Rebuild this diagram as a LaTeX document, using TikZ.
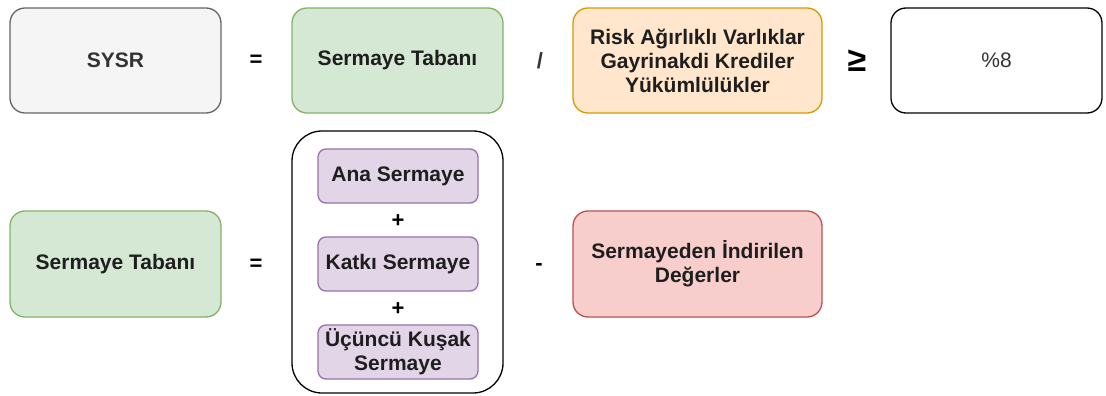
\documentclass[tikz,border=0pt]{standalone}
\usepackage{fontspec}
\setmainfont{Liberation Sans}
\definecolor{grayfill}{HTML}{F5F5F5}
\definecolor{graystroke}{HTML}{666666}
\definecolor{graytext}{HTML}{333333}
\definecolor{greenfill}{HTML}{D5E8D4}
\definecolor{greenstroke}{HTML}{82B366}
\definecolor{orangefill}{HTML}{FFE6CC}
\definecolor{orangestroke}{HTML}{D79B00}
\definecolor{purplefill}{HTML}{E1D5E7}
\definecolor{purplestroke}{HTML}{9673A6}
\definecolor{redfill}{HTML}{F8CECC}
\definecolor{redstroke}{HTML}{B85450}
\definecolor{textdark}{HTML}{1E1E1E}
\begin{document}
\begin{tikzpicture}[x=1pt,y=-1pt,
  box/.style={rectangle, rounded corners=15pt, line width=1.3pt, inner sep=0pt,
    minimum width=211pt, minimum height=105pt, align=center, text=textdark,
    font=\fontsize{21}{24}\selectfont\bfseries},
  graybox/.style={box, fill=grayfill, draw=graystroke, text=graytext},
  greenbox/.style={box, fill=greenfill, draw=greenstroke},
  orangebox/.style={box, fill=orangefill, draw=orangestroke, minimum width=249pt},
  redbox/.style={box, fill=redfill, draw=redstroke, minimum width=249pt},
  whitebox/.style={box, fill=white, draw=black, text=graytext,
    font=\fontsize{21}{24}\selectfont},
  purplebox/.style={box, fill=purplefill, draw=purplestroke, rounded corners=8pt,
    minimum width=160pt, minimum height=54pt},
  groupbox/.style={rectangle, rounded corners=30pt, line width=1.3pt, draw=black,
    fill=white, minimum width=211pt, minimum height=262pt},
  op/.style={inner sep=0pt, text=black, font=\fontsize{22}{24}\selectfont\bfseries}
]
\useasboundingbox[fill=white] (0,0) rectangle (1106,396);

% row 1
\node[graybox] (sysr) at (115.5,60.5) {SYSR};
\node[op] (eq1) at (256,60.5) {=};
\node[greenbox] (tab1) at (397.5,60.5) {Sermaye Tabanı};
\node[op, text=graytext] (div) at (540,61) {/};
\node[orangebox] (rwa) at (697.5,60.5) {Risk Ağırlıklı Varlıklar\\Gayrinakdi Krediler\\Yükümlülükler};
\node[op, font=\fontsize{34}{36}\selectfont\bfseries] (geq) at (857,61) {≥};
\node[whitebox] (pct) at (996.5,60.5) {\%8};

% row 2
\node[greenbox, minimum height=106pt] (tab2) at (115.5,264) {Sermaye Tabanı};
\node[op] (eq2) at (256,265) {=};
\node[groupbox] (grp) at (397.5,262) {};
\node[purplebox] (ana) at (398,176) {Ana Sermaye};
\node[op] (plus1) at (398,221) {+};
\node[purplebox] (katki) at (398,264) {Katkı Sermaye};
\node[op] (plus2) at (398,309) {+};
\node[purplebox] (ucuncu) at (398,352) {Üçüncü Kuşak\\Sermaye};
\node[op] (minus) at (539,267) {-};
\node[redbox, minimum height=106pt] (indir) at (697.5,264) {Sermayeden İndirilen\\Değerler};
\end{tikzpicture}
\end{document}
